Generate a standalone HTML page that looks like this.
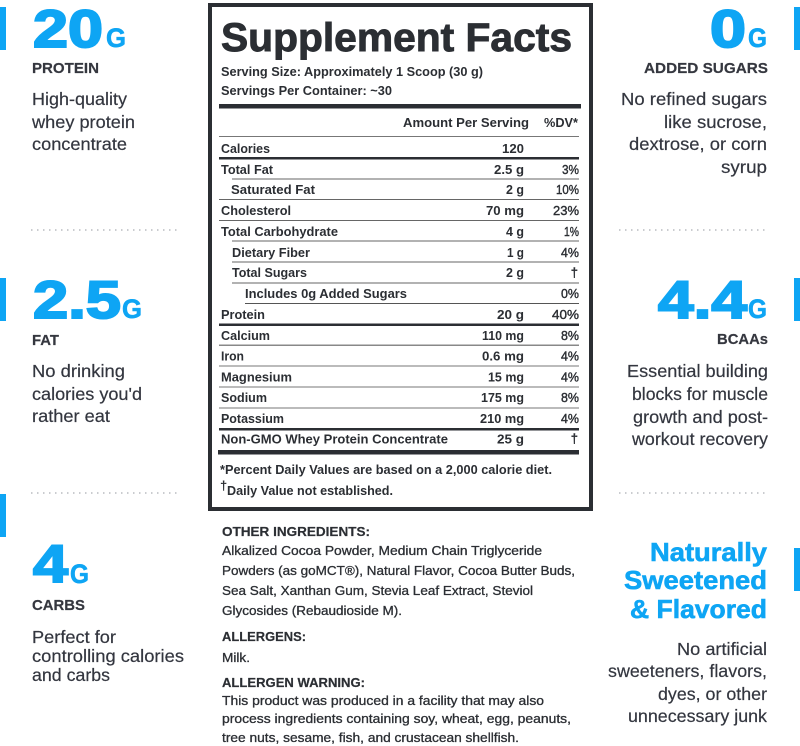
<!DOCTYPE html>
<html lang="en">
<head>
<meta charset="utf-8">
<title>Supplement Facts</title>
<style>
html,body{margin:0;padding:0;width:800px;height:746px;overflow:hidden;background:#fff}
svg{display:block}
text{font-family:"Liberation Sans",sans-serif;white-space:pre}
.big{font-weight:bold;fill:#0ea5f4;stroke:#0ea5f4;stroke-width:.6}
.dig{stroke-width:2}
.lab{font-weight:bold;font-size:15px;fill:#35373f;stroke:#35373f;stroke-width:.2}
.desc{font-size:17.5px;fill:#33363f;stroke:#33363f;stroke-width:.2}
.r{font-weight:bold;font-size:13px;fill:#2b2e33}
.v{font-weight:bold;font-size:13px;fill:#2b2e33;text-anchor:end}
.d{font-size:13px;fill:#2b2e33;text-anchor:end;stroke:#2b2e33;stroke-width:.4}
.i{font-size:12.5px;fill:#2b2e33;stroke:#2b2e33;stroke-width:.3}
.h{font-weight:bold;font-size:13px;fill:#2b2e33;stroke:#2b2e33;stroke-width:.2}
</style>
</head>
<body>
<svg width="800" height="746" viewBox="0 0 800 746">
<!-- side accent bars -->
<rect x="0" y="7" width="6" height="43" fill="#0ea5f4"/>
<rect x="0" y="278" width="6" height="43" fill="#0ea5f4"/>
<rect x="0" y="494" width="6" height="43" fill="#0ea5f4"/>
<rect x="794" y="7" width="6" height="43" fill="#0ea5f4"/>
<rect x="794" y="278" width="6" height="43" fill="#0ea5f4"/>
<rect x="794" y="548" width="6" height="43" fill="#0ea5f4"/>

<!-- left column -->
<g>
<text class="big dig" x="33" y="47" font-size="53" textLength="70" lengthAdjust="spacingAndGlyphs">20</text>
<text class="big" x="106" y="47" font-size="27" textLength="20" lengthAdjust="spacingAndGlyphs">G</text>
<text class="lab" x="32" y="73" textLength="67" lengthAdjust="spacingAndGlyphs">PROTEIN</text>
<text class="desc" x="32" y="105" textLength="95" lengthAdjust="spacingAndGlyphs">High-quality</text>
<text class="desc" x="32" y="128" textLength="103" lengthAdjust="spacingAndGlyphs">whey protein</text>
<text class="desc" x="32" y="150" textLength="95" lengthAdjust="spacingAndGlyphs">concentrate</text>
</g>
<line x1="31" y1="230" x2="180" y2="230" stroke="#b9bbc0" stroke-width="1.5" stroke-dasharray="1.5 4.5"/>
<g>
<text class="big dig" x="33" y="318" font-size="53" textLength="88" lengthAdjust="spacingAndGlyphs">2.5</text>
<text class="big" x="122" y="318" font-size="27" textLength="20" lengthAdjust="spacingAndGlyphs">G</text>
<text class="lab" x="32" y="345" textLength="27" lengthAdjust="spacingAndGlyphs">FAT</text>
<text class="desc" x="32" y="377" textLength="93" lengthAdjust="spacingAndGlyphs">No drinking</text>
<text class="desc" x="32" y="400" textLength="110" lengthAdjust="spacingAndGlyphs">calories you'd</text>
<text class="desc" x="32" y="422" textLength="78" lengthAdjust="spacingAndGlyphs">rather eat</text>
</g>
<line x1="31" y1="493" x2="180" y2="493" stroke="#b9bbc0" stroke-width="1.5" stroke-dasharray="1.5 4.5"/>
<g>
<text class="big dig" x="33" y="582" font-size="53" textLength="35" lengthAdjust="spacingAndGlyphs">4</text>
<text class="big" x="70" y="583" font-size="27" textLength="19" lengthAdjust="spacingAndGlyphs">G</text>
<text class="lab" x="32" y="610" textLength="53" lengthAdjust="spacingAndGlyphs">CARBS</text>
<text class="desc" x="32" y="643" textLength="84" lengthAdjust="spacingAndGlyphs">Perfect for</text>
<text class="desc" x="32" y="662" textLength="152" lengthAdjust="spacingAndGlyphs">controlling calories</text>
<text class="desc" x="32" y="681" textLength="78" lengthAdjust="spacingAndGlyphs">and carbs</text>
</g>

<!-- right column -->
<g>
<text class="big dig" x="710" y="47" font-size="53" textLength="36" lengthAdjust="spacingAndGlyphs">0</text>
<text class="big" x="748" y="47" font-size="27" textLength="19" lengthAdjust="spacingAndGlyphs">G</text>
<text class="lab" x="644" y="73" textLength="124" lengthAdjust="spacingAndGlyphs">ADDED SUGARS</text>
<text class="desc" x="621" y="105" textLength="146" lengthAdjust="spacingAndGlyphs">No refined sugars</text>
<text class="desc" x="664" y="128" textLength="103" lengthAdjust="spacingAndGlyphs">like sucrose,</text>
<text class="desc" x="629" y="150" textLength="138" lengthAdjust="spacingAndGlyphs">dextrose, or corn</text>
<text class="desc" x="721" y="173" textLength="46" lengthAdjust="spacingAndGlyphs">syrup</text>
</g>
<line x1="619" y1="230" x2="768" y2="230" stroke="#b9bbc0" stroke-width="1.5" stroke-dasharray="1.5 4.5"/>
<g>
<text class="big dig" x="658" y="318" font-size="53" textLength="89" lengthAdjust="spacingAndGlyphs">4.4</text>
<text class="big" x="748" y="318" font-size="27" textLength="19" lengthAdjust="spacingAndGlyphs">G</text>
<text class="lab" x="717" y="344" textLength="51" lengthAdjust="spacingAndGlyphs">BCAAs</text>
<text class="desc" x="627" y="377" textLength="141" lengthAdjust="spacingAndGlyphs">Essential building</text>
<text class="desc" x="632" y="400" textLength="136" lengthAdjust="spacingAndGlyphs">blocks for muscle</text>
<text class="desc" x="633" y="423" textLength="135" lengthAdjust="spacingAndGlyphs">growth and post-</text>
<text class="desc" x="632" y="445" textLength="136" lengthAdjust="spacingAndGlyphs">workout recovery</text>
</g>
<line x1="619" y1="493" x2="768" y2="493" stroke="#b9bbc0" stroke-width="1.5" stroke-dasharray="1.5 4.5"/>
<g>
<text class="big" x="650" y="561" font-size="26" textLength="117" lengthAdjust="spacingAndGlyphs">Naturally</text>
<text class="big" x="624" y="589" font-size="26" textLength="143" lengthAdjust="spacingAndGlyphs">Sweetened</text>
<text class="big" x="630" y="618" font-size="26" textLength="137" lengthAdjust="spacingAndGlyphs">&amp; Flavored</text>
<text class="desc" x="677" y="655" textLength="90" lengthAdjust="spacingAndGlyphs">No artificial</text>
<text class="desc" x="608" y="677" textLength="159" lengthAdjust="spacingAndGlyphs">sweeteners, flavors,</text>
<text class="desc" x="658" y="700" textLength="109" lengthAdjust="spacingAndGlyphs">dyes, or other</text>
<text class="desc" x="628" y="722" textLength="139" lengthAdjust="spacingAndGlyphs">unnecessary junk</text>
</g>

<!-- facts panel -->
<g>
<rect x="210" y="5" width="381" height="504" fill="#fff" stroke="#2b2e33" stroke-width="4"/>
<text x="221" y="51" font-size="40" font-weight="bold" fill="#2b2e33" stroke="#2b2e33" stroke-width=".9" textLength="351" lengthAdjust="spacingAndGlyphs">Supplement Facts</text>
<text class="r" x="221" y="76" textLength="262" lengthAdjust="spacingAndGlyphs">Serving Size: Approximately 1 Scoop (30 g)</text>
<text class="r" x="221" y="95" textLength="171" lengthAdjust="spacingAndGlyphs">Servings Per Container: ~30</text>
<rect x="219" y="104" width="362" height="4.5" fill="#2b2e33"/>
<text class="r" x="403" y="127" textLength="126" lengthAdjust="spacingAndGlyphs">Amount Per Serving</text>
<text class="r" x="544" y="127" textLength="34" lengthAdjust="spacingAndGlyphs">%DV*</text>
<rect x="219" y="136" width="360" height="1" fill="#777"/>

<text class="r" x="221" y="153" textLength="49" lengthAdjust="spacingAndGlyphs">Calories</text>
<text class="v" x="524" y="153" textLength="22" lengthAdjust="spacingAndGlyphs">120</text>
<rect x="219" y="157" width="360" height="2.5" fill="#2b2e33"/>

<text class="r" x="221" y="174" textLength="52" lengthAdjust="spacingAndGlyphs">Total Fat</text>
<text class="v" x="524" y="174" textLength="30" lengthAdjust="spacingAndGlyphs">2.5 g</text>
<text class="d" x="579" y="174" textLength="17" lengthAdjust="spacingAndGlyphs">3%</text>
<rect x="232" y="178.5" width="347" height="1" fill="#666"/>

<text class="r" x="231" y="194" textLength="84" lengthAdjust="spacingAndGlyphs">Saturated Fat</text>
<text class="v" x="524" y="194" textLength="18" lengthAdjust="spacingAndGlyphs">2 g</text>
<text class="d" x="579" y="194" textLength="23" lengthAdjust="spacingAndGlyphs">10%</text>
<rect x="219" y="199" width="360" height="1" fill="#666"/>

<text class="r" x="221" y="215" textLength="70" lengthAdjust="spacingAndGlyphs">Cholesterol</text>
<text class="v" x="524" y="215" textLength="38" lengthAdjust="spacingAndGlyphs">70 mg</text>
<text class="d" x="579" y="215" textLength="26" lengthAdjust="spacingAndGlyphs">23%</text>
<rect x="219" y="220" width="360" height="1" fill="#666"/>

<text class="r" x="221" y="236" textLength="117" lengthAdjust="spacingAndGlyphs">Total Carbohydrate</text>
<text class="v" x="524" y="236" textLength="18" lengthAdjust="spacingAndGlyphs">4 g</text>
<text class="d" x="579" y="236" textLength="15" lengthAdjust="spacingAndGlyphs">1%</text>
<rect x="232" y="240.5" width="347" height="1" fill="#666"/>

<text class="r" x="232" y="257" textLength="78" lengthAdjust="spacingAndGlyphs">Dietary Fiber</text>
<text class="v" x="524" y="257" textLength="17" lengthAdjust="spacingAndGlyphs">1 g</text>
<text class="d" x="579" y="257" textLength="18" lengthAdjust="spacingAndGlyphs">4%</text>
<rect x="232" y="261.5" width="347" height="1" fill="#666"/>

<text class="r" x="232" y="277" textLength="75" lengthAdjust="spacingAndGlyphs">Total Sugars</text>
<text class="v" x="524" y="277" textLength="18" lengthAdjust="spacingAndGlyphs">2 g</text>
<text class="d" x="578" y="277">†</text>
<rect x="232" y="282.5" width="347" height="1" fill="#666"/>

<text class="r" x="245" y="298" textLength="162" lengthAdjust="spacingAndGlyphs">Includes 0g Added Sugars</text>
<text class="d" x="579" y="298" textLength="18" lengthAdjust="spacingAndGlyphs">0%</text>
<rect x="245" y="303" width="334" height="1" fill="#555"/>

<text class="r" x="221" y="319" textLength="44" lengthAdjust="spacingAndGlyphs">Protein</text>
<text class="v" x="524" y="319" textLength="27" lengthAdjust="spacingAndGlyphs">20 g</text>
<text class="d" x="579" y="319" textLength="27" lengthAdjust="spacingAndGlyphs">40%</text>
<rect x="219" y="323.5" width="360" height="2.5" fill="#2b2e33"/>

<text class="r" x="221" y="340" textLength="49" lengthAdjust="spacingAndGlyphs">Calcium</text>
<text class="v" x="524" y="340" textLength="42" lengthAdjust="spacingAndGlyphs">110 mg</text>
<text class="d" x="579" y="340" textLength="18" lengthAdjust="spacingAndGlyphs">8%</text>
<rect x="219" y="344.5" width="360" height="1.5" fill="#888"/>

<text class="r" x="221" y="360.500" textLength="23" lengthAdjust="spacingAndGlyphs">Iron</text>
<text class="v" x="524" y="360.500" textLength="42" lengthAdjust="spacingAndGlyphs">0.6 mg</text>
<text class="d" x="579" y="360.500" textLength="18" lengthAdjust="spacingAndGlyphs">4%</text>
<rect x="219" y="365.5" width="360" height="1" fill="#777"/>

<text class="r" x="221" y="381.500" textLength="71" lengthAdjust="spacingAndGlyphs">Magnesium</text>
<text class="v" x="524" y="381.500" textLength="36" lengthAdjust="spacingAndGlyphs">15 mg</text>
<text class="d" x="579" y="381.500" textLength="18" lengthAdjust="spacingAndGlyphs">4%</text>
<rect x="219" y="386.5" width="360" height="1" fill="#777"/>

<text class="r" x="221" y="402" textLength="46" lengthAdjust="spacingAndGlyphs">Sodium</text>
<text class="v" x="524" y="402" textLength="43" lengthAdjust="spacingAndGlyphs">175 mg</text>
<text class="d" x="579" y="402" textLength="18" lengthAdjust="spacingAndGlyphs">8%</text>
<rect x="219" y="407.5" width="360" height="1" fill="#777"/>

<text class="r" x="221" y="423" textLength="63" lengthAdjust="spacingAndGlyphs">Potassium</text>
<text class="v" x="524" y="423" textLength="44" lengthAdjust="spacingAndGlyphs">210 mg</text>
<text class="d" x="579" y="423" textLength="18" lengthAdjust="spacingAndGlyphs">4%</text>
<rect x="219" y="428" width="360" height="2.500" fill="#2b2e33"/>

<text class="r" x="221" y="443.500" textLength="227" lengthAdjust="spacingAndGlyphs">Non-GMO Whey Protein Concentrate</text>
<text class="v" x="524" y="443.500" textLength="27" lengthAdjust="spacingAndGlyphs">25 g</text>
<text class="d" x="578" y="443">†</text>
<rect x="218" y="450" width="361" height="4.5" fill="#2b2e33"/>

<text class="r" x="220" y="474" textLength="332" lengthAdjust="spacingAndGlyphs">*Percent Daily Values are based on a 2,000 calorie diet.</text>
<text class="r" x="220" y="490" font-size="14">†</text>
<text class="r" x="227" y="495" textLength="166" lengthAdjust="spacingAndGlyphs">Daily Value not established.</text>
</g>

<!-- ingredients -->
<g>
<text class="h" x="222" y="536" textLength="148" lengthAdjust="spacingAndGlyphs">OTHER INGREDIENTS:</text>
<text class="i" x="222" y="555" textLength="320" lengthAdjust="spacingAndGlyphs">Alkalized Cocoa Powder, Medium Chain Triglyceride</text>
<text class="i" x="222" y="575" textLength="353" lengthAdjust="spacingAndGlyphs">Powders (as goMCT®), Natural Flavor, Cocoa Butter Buds,</text>
<text class="i" x="222" y="595" textLength="311" lengthAdjust="spacingAndGlyphs">Sea Salt, Xanthan Gum, Stevia Leaf Extract, Steviol</text>
<text class="i" x="222" y="615" textLength="180" lengthAdjust="spacingAndGlyphs">Glycosides (Rebaudioside M).</text>
<text class="h" x="222" y="641" textLength="84" lengthAdjust="spacingAndGlyphs">ALLERGENS:</text>
<text class="i" x="222" y="662" textLength="28" lengthAdjust="spacingAndGlyphs">Milk.</text>
<text class="h" x="222" y="687" textLength="143" lengthAdjust="spacingAndGlyphs">ALLERGEN WARNING:</text>
<text class="i" x="222" y="705" textLength="322" lengthAdjust="spacingAndGlyphs">This product was produced in a facility that may also</text>
<text class="i" x="222" y="723" textLength="349" lengthAdjust="spacingAndGlyphs">process ingredients containing soy, wheat, egg, peanuts,</text>
<text class="i" x="222" y="742" textLength="297" lengthAdjust="spacingAndGlyphs">tree nuts, sesame, fish, and crustacean shellfish.</text>
</g>
</svg>
</body>
</html>
